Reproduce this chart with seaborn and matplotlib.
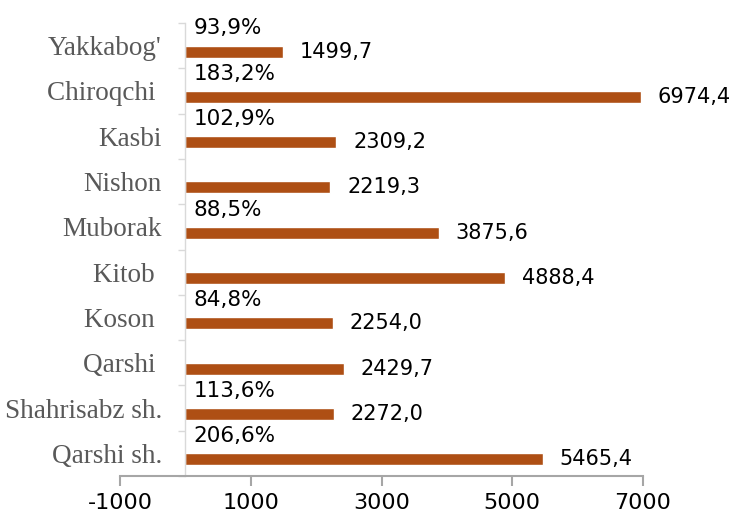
import numpy as np
import pandas as pd
import matplotlib
matplotlib.use("Agg")
import matplotlib.pyplot as plt
import seaborn as sns

# tumanlar (yuqoridan pastga)
tumanlar = ["Yakkabog'", "Chiroqchi ", "Kasbi", "Nishon", "Muborak", "Kitob ",
            "Koson ", "Qarshi ", "Shahrisabz sh.", "Qarshi sh."]
hajm = [1499.7, 6974.4, 2309.2, 2219.3, 3875.6, 4888.4, 2254.0, 2429.7, 2272.0, 5465.4]
foiz = [93.9, 183.2, 102.9, None, 88.5, None, 84.8, None, 113.6, 206.6]
x_ticks = [-1000, 1000, 3000, 5000, 7000]

sns.set_style("white")
plt.rcParams['font.family'] = ['DejaVu Sans']

df = pd.DataFrame({"tuman": tumanlar, "hajm": hajm})

fig = plt.figure(figsize=(7.31, 5.22), dpi=100)
ax = fig.add_axes([120/731, 1 - 476/522, (643 - 120)/731, (476 - 23)/522])

sns.barplot(data=df, x="hajm", y="tuman", orient="h", color="#AE4F14",
            saturation=1, width=0.265, ax=ax)

# bars sit in the lower half of each band
shift = 0.13
for p in ax.patches:
    p.set_y(p.get_y() + shift)

ax.set_xlim(-1000, 7000)
ax.set_ylim(len(tumanlar) - 0.5, -0.5)

for p in ax.patches:
    v = p.get_width()
    ax.annotate(f"{v:.1f}".replace(".", ","), xy=(v, p.get_y() + p.get_height() / 2),
                xytext=(12, 0), textcoords="offset points", ha="left", va="center",
                fontsize=15, color="black")

# percent labels sit just right of the axis, above each bar
for i, f in enumerate(foiz):
    if f is None:
        continue
    ax.annotate(f"{f:.1f}%".replace(".", ","), xy=(0, i - 0.38),
                xytext=(6, 0), textcoords="offset points", ha="left", va="center",
                fontsize=15.5, color="black", annotation_clip=False)

ax.set_xlabel("")
ax.set_ylabel("")
ax.set_xticks(x_ticks)
ax.set_xticklabels([str(t) for t in x_ticks])

for s in ["top", "right"]:
    ax.spines[s].set_visible(False)
ax.spines["left"].set_position(("data", 0))
ax.spines["left"].set_color("#d9d9d9")
ax.spines["left"].set_linewidth(1)
ax.spines["bottom"].set_color("#a6a6a6")
ax.spines["bottom"].set_linewidth(1.5)

ax.set_yticks(np.arange(-0.5, len(tumanlar), 1), minor=True)
ax.tick_params(axis="y", which="major", length=0, pad=17)
ax.tick_params(axis="y", which="minor", left=True, length=5, width=1, color="#d9d9d9")
for lab in ax.get_yticklabels():
    lab.set_fontfamily("Liberation Serif")
    lab.set_fontsize(19.5)
    lab.set_color("#595959")
    lab.set_va("center_baseline")

ax.tick_params(axis="x", bottom=True, length=7, width=1.5, color="#a6a6a6",
               labelsize=16, labelcolor="black", pad=5)

fig.savefig("out.png", dpi=100)
